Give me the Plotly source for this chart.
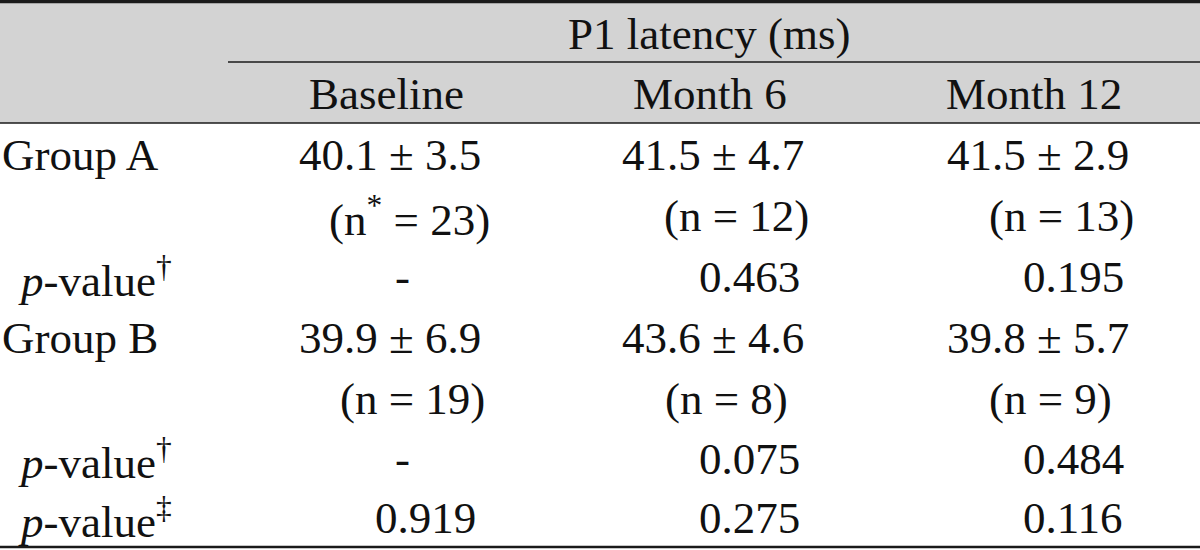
import plotly.graph_objects as go

# ---- data ----
title = "P1 latency (ms)"
columns = ["Baseline", "Month 6", "Month 12"]
groups = ["Group A", "Group B"]
a_mean = [40.1, 41.5, 41.5]
a_sd = [3.5, 4.7, 2.9]
a_n = [23, 12, 13]
a_p = ["-", "0.463", "0.195"]
b_mean = [39.9, 43.6, 39.8]
b_sd = [6.9, 4.6, 5.7]
b_n = [19, 8, 9]
b_p = ["-", "0.075", "0.484"]
between_p = ["0.919", "0.275", "0.116"]

# ---- layout constants ----
W, H = 1200, 550
FONT = "Liberation Serif, Times New Roman, serif"
FS = 45
HEADER_BG = "#d3d3d3"
col_center = [386, 710, 1034]
mean_left = [297, 620, 945]
n_left = {"Group A": [327, 662, 987], "Group B": [338, 663, 987]}
p_left = [373, 697, 1021]
row_y = [155, 216, 277, 338, 399, 459, 518]

fig = go.Figure()
fig.add_trace(go.Scatter(x=[0, W], y=[0, H], mode="markers",
                         marker=dict(opacity=0), hoverinfo="skip", showlegend=False))

shapes = [
    dict(type="rect", x0=0, x1=W, y0=0, y1=123, fillcolor=HEADER_BG, line=dict(width=0), layer="below"),
    dict(type="line", x0=0, x1=W, y0=1.5, y1=1.5, line=dict(color="#1a1a1a", width=3.5)),
    dict(type="line", x0=228, x1=W, y0=62, y1=62, line=dict(color="#1a1a1a", width=1.5)),
    dict(type="line", x0=0, x1=W, y0=123, y1=123, line=dict(color="#1a1a1a", width=1.5)),
    dict(type="line", x0=0, x1=W, y0=547, y1=547, line=dict(color="#1a1a1a", width=2.5)),
]

ann = []
def add(text, x, y, anchor="left"):
    ann.append(dict(text=text, x=x, y=y, xref="x", yref="y", xanchor=anchor, yanchor="middle",
                    showarrow=False, font=dict(family=FONT, size=FS, color="#111111")))

add(title, 709, 34, "center")
for c, cx in zip(columns, col_center):
    add(c, cx, 94, "center")

pv_dagger = "<i>p</i>-value<sup>†</sup>"
pv_ddagger = "<i>p</i>-value<sup>‡</sup>"

def group_block(name, means, sds, ns, ps, y0, star):
    add(name, 0, row_y[y0])
    for i in range(3):
        add(f"{means[i]:.1f} ± {sds[i]:.1f}", mean_left[i], row_y[y0])
        nlab = "(n<sup>*</sup> = %d)" % ns[i] if (star and i == 0) else "(n = %d)" % ns[i]
        add(nlab, n_left[name][i], row_y[y0 + 1])
        if ps[i] == "-":
            add("-", 402, row_y[y0 + 2], "center")
        else:
            add(ps[i], p_left[i], row_y[y0 + 2])
    add(pv_dagger, 16, row_y[y0 + 2])

group_block("Group A", a_mean, a_sd, a_n, a_p, 0, True)
group_block("Group B", b_mean, b_sd, b_n, b_p, 3, False)
add(pv_ddagger, 16, row_y[6])
for i in range(3):
    add(between_p[i], p_left[i], row_y[6])

fig.update_layout(
    width=W, height=H, margin=dict(l=0, r=0, t=0, b=0),
    paper_bgcolor="white", plot_bgcolor="white",
    xaxis=dict(range=[0, W], visible=False, fixedrange=True),
    yaxis=dict(range=[H, 0], visible=False, fixedrange=True),
    shapes=shapes, annotations=ann, showlegend=False,
)
fig.write_html("out.html", config={"displayModeBar": False},
               post_script="document.body.style.margin='0';document.body.style.overflow='hidden';")
